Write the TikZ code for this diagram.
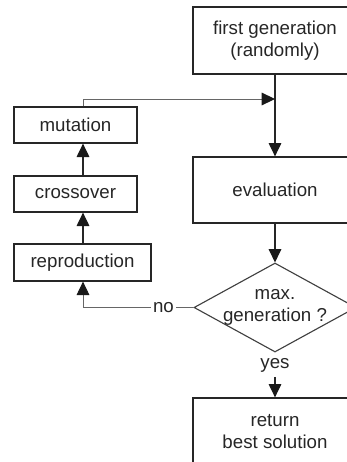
\documentclass[tikz,border=0pt]{standalone}
\usepackage{fontspec}
\setmainfont{Liberation Sans}
\usetikzlibrary{arrows.meta,shapes.geometric}

\begin{document}
\begin{tikzpicture}[x=0.025cm, y=-0.025cm,
    font=\fontsize{13.3}{16}\selectfont, text=black!85,
    box/.style={draw=black!85, line width=0.9pt, align=center, inner sep=0pt},
    bigbox/.style={box, minimum width=4.1cm, minimum height=1.675cm},
    smallbox/.style={box, minimum width=3.075cm, minimum height=0.9cm},
    decision/.style={diamond, draw=black!75, line width=0.8pt, inner sep=0pt,
        minimum width=4.05cm, minimum height=2.225cm},
    flow/.style={line width=0.8pt, draw=black!85,
        -{Triangle[width=9pt,length=9.5pt,color=black!90,fill=black!90]}},
    back/.style={flow, line width=0.7pt, draw=black!60}]
    \useasboundingbox (0,0) rectangle (347,462);
    \clip (0,0) rectangle (347,462);

    % main column
    \node[bigbox] (first) at (275, 40.5) {first generation\\(randomly)};
    \node[bigbox, minimum height=1.65cm] (eval) at (275, 190) {evaluation};
    \node[decision, label={[align=center]center:max.\\generation ?}] (maxgen) at (275, 307.5) {};
    \node (yes) at (275, 365) {yes};
    \node[bigbox] (result) at (275, 431.5) {return\\best solution};

    % left column
    \node[smallbox] (mut) at (75.5, 125) {mutation};
    \node[smallbox] (cross) at (75.5, 194) {crossover};
    \node[smallbox, minimum width=3.425cm, minimum height=0.925cm] (repro) at (82.5, 262.5) {reproduction};
    \node[inner sep=1.5pt] (no) at (163.5, 307.5) {no};
    \coordinate (turn) at (83, 99);

    % connectors
    \draw[flow] (first) -- (eval);
    \draw[flow] (eval) -- (maxgen);
    \draw[flow] (yes) -- (result);
    \draw[flow] (repro.north -| turn) -- (cross.south -| turn);
    \draw[flow] (cross.north -| turn) -- (mut.south -| turn);
    \draw[back] (mut.north -| turn) -- (turn) -- (turn -| first.south);
    \draw[back, -] (maxgen.west) -- (no.east);
    \draw[back] (no.west) -| (repro.south -| turn);
\end{tikzpicture}
\end{document}
